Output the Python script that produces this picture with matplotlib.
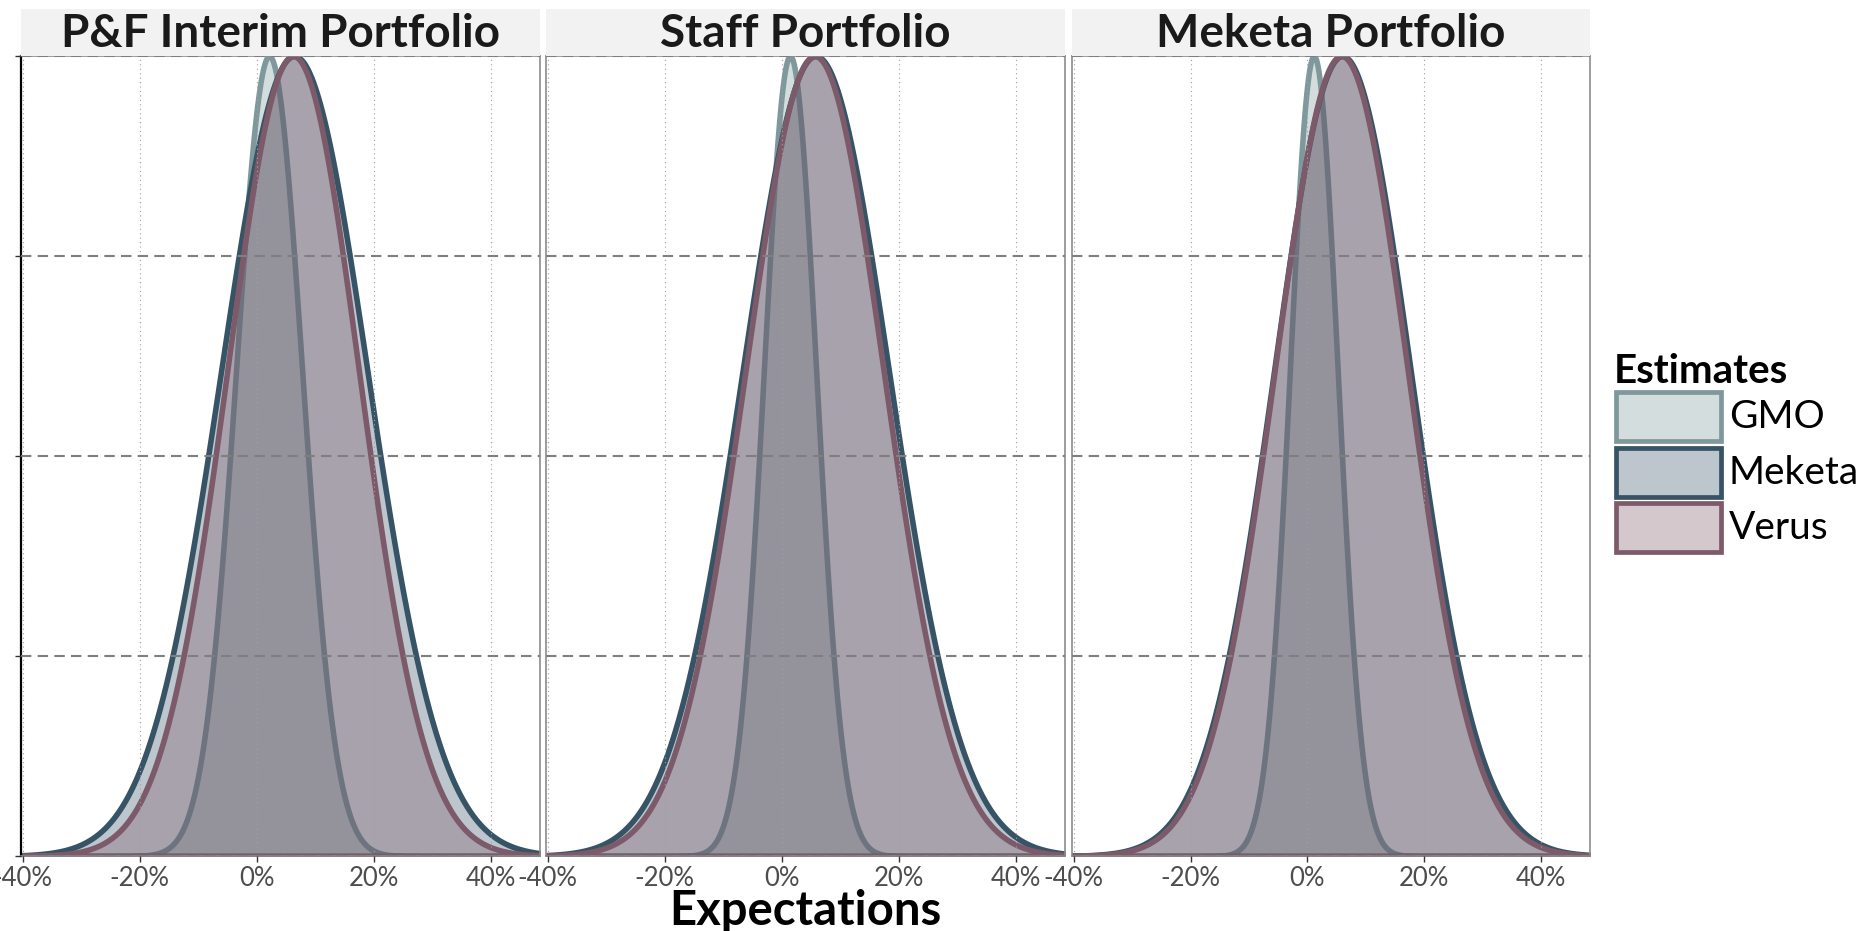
import numpy as np
import matplotlib
matplotlib.use("Agg")
import matplotlib.pyplot as plt
from matplotlib.patches import Rectangle
from matplotlib.ticker import FuncFormatter

plt.rcParams['font.family'] = ['Lato', 'DejaVu Sans']

# Facets and estimate groups
portfolios = ["P&F Interim Portfolio", "Staff Portfolio", "Meketa Portfolio"]
estimates = ["GMO", "Meketa", "Verus"]

# Expected return (mean, %) and volatility (sd, %)
gmo_mean = [2.1, 1.4, 1.1]
gmo_sd = [5.65, 4.47, 4.1]
meketa_mean = [6.4, 5.8, 6.0]
meketa_sd = [12.5, 12.5, 11.7]
verus_mean = [6.2, 5.6, 5.8]
verus_sd = [11.25, 11.8, 11.4]

x_ticks = [-40, -20, 0, 20, 40]
y_ticks = [0, 0.25, 0.5, 0.75, 1.0]

edge_colors = {"GMO": "#7f989c", "Meketa": "#365466", "Verus": "#7d5a6a"}
fill_alpha = 0.33

params = {
    "GMO": (gmo_mean, gmo_sd),
    "Meketa": (meketa_mean, meketa_sd),
    "Verus": (verus_mean, verus_sd),
}

W, H = 1875, 931
fig = plt.figure(figsize=(W / 100, H / 100), dpi=100)


def fx(px):
    return px / W


def fy(py):
    return (H - py) / H


panel_px = [(21, 540), (546, 1065), (1072, 1590)]
ax_top, ax_bot = 56, 856
strip_top = 9
xmin, xmax = -40.3, 48.4
xs = np.linspace(xmin, xmax, 600)

for i, (name, (l, r)) in enumerate(zip(portfolios, panel_px)):
    ax = fig.add_axes([fx(l), fy(ax_bot), fx(r - l), (ax_bot - ax_top) / H])
    for est in estimates:
        mu, sd = params[est][0][i], params[est][1][i]
        dens = np.exp(-0.5 * ((xs - mu) / sd) ** 2)  # scaled density, peak = 1
        col = edge_colors[est]
        ax.fill_between(xs, dens, facecolor=matplotlib.colors.to_rgba(col, fill_alpha),
                        edgecolor=col, linewidth=4.0, joinstyle='round')
    ax.set_xlim(xmin, xmax)
    ax.set_ylim(0, 1)
    ax.set_xticks(x_ticks)
    ax.set_yticks(y_ticks)
    ax.xaxis.set_major_formatter(FuncFormatter(lambda v, p: f"{v:.0f}%"))
    ax.set_axisbelow(False)
    ax.grid(axis='x', color='#a0a0a0', linewidth=0.8, linestyle=(0, (1, 3)))
    ax.grid(axis='y', color='#7f7f7f', linewidth=1.5, linestyle=(0, (5, 3)))
    ax.tick_params(axis='x', length=4, width=1, color='#333333', labelsize=18.5,
                   labelcolor='#4d4d4d', pad=3)
    for s in ax.spines.values():
        s.set_color('#8c8c8c')
        s.set_linewidth(1.2)
    if i == 0:
        ax.spines['left'].set_color('black')
        ax.spines['left'].set_linewidth(1.6)
        ax.tick_params(axis='y', length=4, width=1, color='#333333')
        ax.set_yticklabels([])
    else:
        ax.tick_params(axis='y', length=0)
        ax.set_yticklabels([])

    # facet strip
    sax = fig.add_axes([fx(l), fy(ax_top), fx(r - l), (ax_top - strip_top) / H])
    sax.set_facecolor('#f2f2f2')
    sax.set_xticks([])
    sax.set_yticks([])
    for s in sax.spines.values():
        s.set_visible(False)
    sax.text(0.5, 0.46, name, ha='center', va='center', fontsize=33,
             fontweight='bold', color='#1a1a1a', transform=sax.transAxes)

fig.text(fx((panel_px[0][0] + panel_px[2][1]) / 2), fy(925), "Expectations",
         ha='center', va='baseline', fontsize=34, fontweight='bold', color='black')

# legend
fig.text(fx(1614), fy(383), "Estimates", ha='left', va='baseline', fontsize=29,
         fontweight='bold', color='black')
key_tops = [390, 446, 501]
for est, kt in zip(estimates, key_tops):
    col = edge_colors[est]
    fig.add_artist(Rectangle((fx(1616), fy(kt + 51)), fx(105), 49 / H,
                             transform=fig.transFigure,
                             facecolor=matplotlib.colors.to_rgba(col, fill_alpha),
                             edgecolor=col, linewidth=3.4))
    fig.text(fx(1729), fy(kt + 27), est, ha='left', va='center', fontsize=28,
             color='black')

fig.savefig("out.png", dpi=100)
